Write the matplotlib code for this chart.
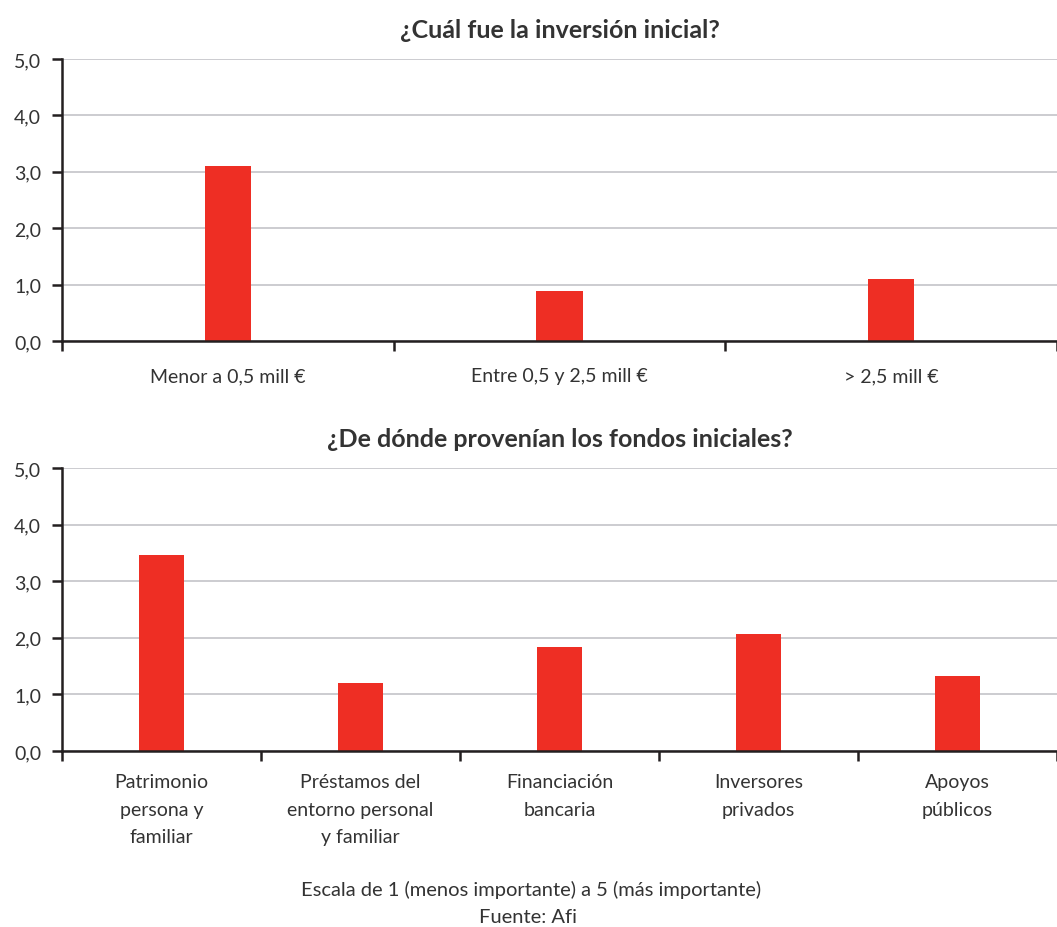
import numpy as np
import matplotlib
matplotlib.use("Agg")
import matplotlib.pyplot as plt

# data
inv_labels = ["Menor a 0,5 mill €", "Entre 0,5 y 2,5 mill €", "> 2,5 mill €"]
inv_values = [3.10, 0.88, 1.10]

fondos_labels = ["Patrimonio\npersona y\nfamiliar",
                 "Préstamos del\nentorno personal\ny familiar",
                 "Financiación\nbancaria",
                 "Inversores\nprivados",
                 "Apoyos\npúblicos"]
fondos_values = [3.46, 1.20, 1.84, 2.07, 1.33]

y_ticks = [0, 1, 2, 3, 4, 5]

RED = '#ee2e24'
DARK = '#231f20'
TXT = '#333333'
GRID = '#c4c4c8'

plt.rcParams['font.family'] = ['Lato', 'DejaVu Sans']

fig = plt.figure(figsize=(10.57, 9.28), dpi=100)
W, H = 1057.0, 928.0


def panel(rect_px, labels, values, barw, title, lab_pad):
    l, t, r, b = rect_px
    ax = fig.add_axes([l / W, 1 - b / H, (r - l) / W, (b - t) / H])
    n = len(values)
    x = np.arange(n) + 0.5
    ax.bar(x, values, width=barw, color=RED, zorder=3)
    ax.set_xlim(0, n)
    ax.set_ylim(0, 5)
    ax.set_yticks(y_ticks)
    ax.set_yticklabels([("%.1f" % v).replace('.', ',') for v in y_ticks],
                       fontsize=14, color=TXT)
    ax.yaxis.grid(True, color=GRID, lw=1.2, zorder=0)
    ax.set_axisbelow(True)
    for s in ['top', 'right']:
        ax.spines[s].set_visible(False)
    for s in ['left', 'bottom']:
        ax.spines[s].set_color(DARK)
        ax.spines[s].set_linewidth(1.8)
        ax.spines[s].set_zorder(4)
    ax.tick_params(axis='y', length=7, width=1.8, color=DARK, pad=8)
    ax.set_xticks(np.arange(n + 1))
    ax.set_xticklabels([])
    ax.tick_params(axis='x', which='major', length=7, width=1.8, color=DARK)
    ax.set_xticks(x, minor=True)
    ax.set_xticklabels(labels, minor=True, fontsize=14, color=TXT,
                       linespacing=1.75)
    ax.tick_params(axis='x', which='minor', length=0, pad=lab_pad)
    ax.set_title(title, fontsize=18, fontweight='bold', color=TXT, pad=16)
    return ax


panel((62, 60, 1057, 342), inv_labels, inv_values, 0.139,
      "¿Cuál fue la inversión inicial?", 19)
panel((62, 469, 1057, 752), fondos_labels, fondos_values, 0.231,
      "¿De dónde provenían los fondos iniciales?", 16)

fig.text(531 / W, 1 - 890 / H, "Escala de 1 (menos importante) a 5 (más importante)",
         ha='center', va='center', fontsize=14.5, color=TXT)
fig.text(528 / W, 1 - 918 / H, "Fuente: Afi",
         ha='center', va='center', fontsize=14.5, color=TXT)

fig.savefig("out.png", dpi=100)
